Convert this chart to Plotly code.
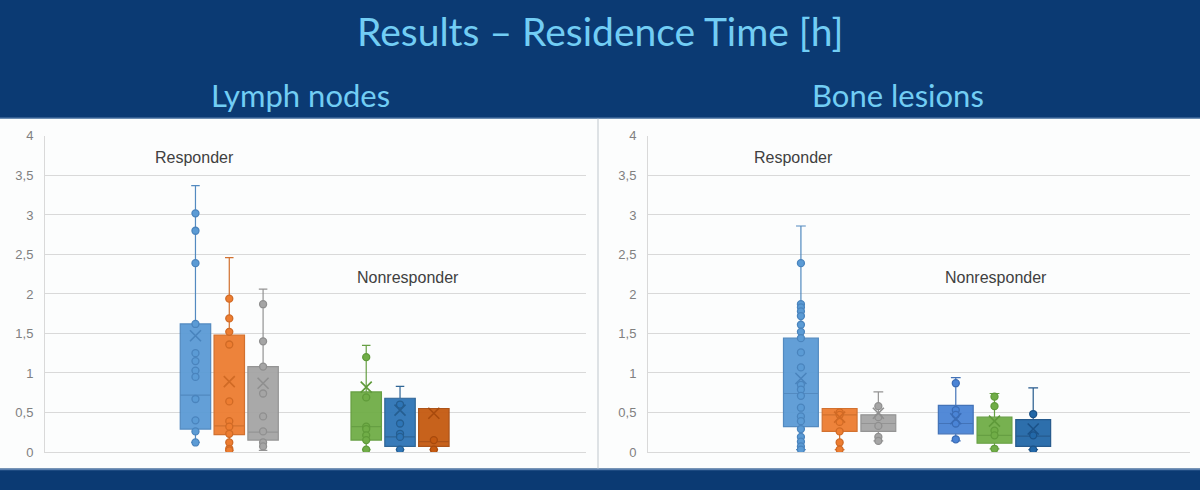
import plotly.graph_objects as go

# ---------------- DATA ----------------
GROUPS = ["Responder", "Responder", "Responder", "Nonresponder", "Nonresponder", "Nonresponder"]

# Lymph nodes
LN_Q1 = [0.29, 0.22, 0.15, 0.15, 0.07, 0.07]
LN_MED = [0.72, 0.33, 0.25, 0.32, 0.19, 0.13]
LN_Q3 = [1.62, 1.48, 1.08, 0.76, 0.68, 0.55]
LN_LO = [0.12, 0.02, 0.02, 0.03, 0.03, 0.03]
LN_HI = [3.37, 2.46, 2.06, 1.35, 0.83, 0.55]
LN_MEAN = [1.47, 0.89, 0.87, 0.82, 0.53, 0.49]
LN_PTS = [
    [3.02, 2.80, 2.39, 1.62, 1.25, 1.15, 1.03, 0.95, 0.67, 0.40, 0.26, 0.12],
    [1.94, 1.69, 1.52, 1.36, 0.64, 0.39, 0.32, 0.23, 0.12, 0.04, 0.02],
    [1.87, 1.40, 1.08, 0.74, 0.45, 0.26, 0.12, 0.07],
    [1.20, 0.69, 0.32, 0.29, 0.21, 0.15, 0.03],
    [0.60, 0.36, 0.23, 0.19, 0.03],
    [0.15, 0.03],
]

# Bone lesions
BL_Q1 = [0.32, 0.26, 0.26, 0.23, 0.11, 0.07]
BL_MED = [0.74, 0.47, 0.36, 0.36, 0.21, 0.20]
BL_Q3 = [1.44, 0.55, 0.47, 0.59, 0.44, 0.41]
BL_LO = [0.03, 0.03, 0.14, 0.14, 0.04, 0.03]
BL_HI = [2.86, 0.55, 0.76, 0.94, 0.74, 0.81]
BL_MEAN = [0.93, 0.44, 0.49, 0.42, 0.39, 0.29]
BL_PTS = [
    [2.39, 1.87, 1.83, 1.78, 1.72, 1.61, 1.52, 1.44, 1.26, 1.07, 0.85, 0.79, 0.71,
     0.56, 0.45, 0.39, 0.29, 0.19, 0.13, 0.07, 0.03],
    [0.50, 0.47, 0.38, 0.26, 0.12, 0.03],
    [0.58, 0.44, 0.33, 0.19, 0.14],
    [0.87, 0.53, 0.47, 0.36, 0.16],
    [0.70, 0.58, 0.27, 0.21, 0.04],
    [0.48, 0.21, 0.03],
]

Y_TICKS = [0, 0.5, 1, 1.5, 2, 2.5, 3, 3.5, 4]

# ---------------- STYLE ----------------
LN_FILL = ["#5b9bd5", "#ed7d31", "#a5a5a5", "#70ad47", "#2e75b6", "#c55a11"]
LN_LINE = ["#4a84bd", "#d06a25", "#8f8f8f", "#5f9a3a", "#255e91", "#a84a0d"]
BL_FILL = ["#5b9bd5", "#ed7d31", "#a5a5a5", "#4a84d6", "#70ad47", "#2268a8"]
BL_LINE = ["#4a84bd", "#d06a25", "#8f8f8f", "#3a6cb5", "#5f9a3a", "#1b5288"]

LN_X = [4.45, 5.45, 6.45, 9.5, 10.5, 11.5]
BL_X = [3.95, 4.95, 5.95, 7.95, 8.95, 9.95]

BG = "#0b3a73"
TITLE_C = "#72cdf4"

fig = go.Figure()


def add_chart(xs, q1, med, q3, lo, hi, mean, pts, fills, lines, xa, ya):
    for i in range(len(xs)):
        fig.add_trace(go.Box(
            x=[xs[i]], q1=[q1[i]], median=[med[i]], q3=[q3[i]],
            lowerfence=[lo[i]], upperfence=[hi[i]],
            width=0.9, whiskerwidth=0.28,
            fillcolor=fills[i], line=dict(color=lines[i], width=1.2),
            opacity=0.95, boxpoints=False, showlegend=False,
            xaxis=xa, yaxis=ya, hoverinfo="y", name=GROUPS[i]))
    for i in range(len(xs)):
        fig.add_trace(go.Scatter(
            x=[xs[i]] * len(pts[i]), y=pts[i], mode="markers",
            marker=dict(symbol="circle", size=7, color=fills[i],
                        line=dict(color=lines[i], width=1.3)),
            showlegend=False, xaxis=xa, yaxis=ya, name=GROUPS[i]))
        fig.add_trace(go.Scatter(
            x=[xs[i]], y=[mean[i]], mode="markers",
            marker=dict(symbol="x-thin-open", size=11, color=lines[i],
                        line=dict(color=lines[i], width=1.6)),
            showlegend=False, xaxis=xa, yaxis=ya, name=GROUPS[i]))


add_chart(LN_X, LN_Q1, LN_MED, LN_Q3, LN_LO, LN_HI, LN_MEAN, LN_PTS, LN_FILL, LN_LINE, "x", "y")
add_chart(BL_X, BL_Q1, BL_MED, BL_Q3, BL_LO, BL_HI, BL_MEAN, BL_PTS, BL_FILL, BL_LINE, "x2", "y2")

H = 490.0
W = 1200.0
y_dom = [(H - 459) / H, (H - 133) / H]

yaxis_common = dict(
    range=[0, 4], tickvals=Y_TICKS, showgrid=True, gridcolor="#d9d9d9", gridwidth=1,
    zeroline=False, showline=True, linecolor="#d9d9d9", linewidth=1,
    ticks="", tickfont=dict(family="Liberation Sans, Arial", size=13, color="#808080"),
    ticklabelstandoff=8, fixedrange=True)
xaxis_common = dict(showgrid=False, zeroline=False, showticklabels=False, ticks="",
                    showline=True, linecolor="#d9d9d9", linewidth=1, fixedrange=True)

fig.update_layout(
    width=1200, height=490,
    margin=dict(l=0, r=0, t=0, b=0),
    paper_bgcolor=BG, plot_bgcolor="rgba(0,0,0,0)",
    separators=", ",
    showlegend=False,
    xaxis=dict(domain=[45 / W, 586 / W], range=[0, 16], **xaxis_common),
    yaxis=dict(domain=y_dom, anchor="x", **yaxis_common),
    xaxis2=dict(domain=[648 / W, 1190 / W], range=[0, 14], anchor="y2", **xaxis_common),
    yaxis2=dict(domain=y_dom, anchor="x2", **yaxis_common),
    shapes=[
        dict(type="rect", xref="paper", yref="paper", x0=0, x1=1,
             y0=(H - 476) / H, y1=(H - 115) / H, fillcolor="#fcfdfd",
             line=dict(width=0), layer="below"),
        dict(type="line", xref="paper", yref="paper", x0=598 / W, x1=598 / W,
             y0=(H - 476) / H, y1=(H - 115) / H, line=dict(color="#d4d8dc", width=1.5),
             layer="below"),
        dict(type="line", xref="paper", yref="paper", x0=0, x1=1,
             y0=(H - 477) / H, y1=(H - 477) / H, line=dict(color="#5a7fae", width=1.5)),
        dict(type="line", xref="paper", yref="paper", x0=0, x1=1,
             y0=(H - 114.5) / H, y1=(H - 114.5) / H, line=dict(color="#5a7fae", width=1)),
    ],
    annotations=[
        dict(text="Results – Residence Time [h]", x=0.5, y=(H - 25) / H, xref="paper",
             yref="paper", showarrow=False, xanchor="center", yanchor="middle",
             font=dict(family="Lato, Open Sans", size=39, color=TITLE_C)),
        dict(text="Lymph nodes", x=300 / W, y=(H - 91) / H, xref="paper",
             yref="paper", showarrow=False, xanchor="center", yanchor="middle",
             font=dict(family="Lato, Open Sans", size=31, color=TITLE_C)),
        dict(text="Bone lesions", x=898 / W, y=(H - 91) / H, xref="paper",
             yref="paper", showarrow=False, xanchor="center", yanchor="middle",
             font=dict(family="Lato, Open Sans", size=31, color=TITLE_C)),
        dict(text="Responder", x=153 / W, y=(H - 155) / H, xref="paper", yref="paper",
             showarrow=False, xanchor="left", yanchor="middle",
             font=dict(family="Liberation Sans, Arial", size=16, color="#404040")),
        dict(text="Nonresponder", x=355 / W, y=(H - 279) / H, xref="paper", yref="paper",
             showarrow=False, xanchor="left", yanchor="middle",
             font=dict(family="Liberation Sans, Arial", size=16, color="#404040")),
        dict(text="Responder", x=752 / W, y=(H - 155) / H, xref="paper", yref="paper",
             showarrow=False, xanchor="left", yanchor="middle",
             font=dict(family="Liberation Sans, Arial", size=16, color="#404040")),
        dict(text="Nonresponder", x=943 / W, y=(H - 279) / H, xref="paper", yref="paper",
             showarrow=False, xanchor="left", yanchor="middle",
             font=dict(family="Liberation Sans, Arial", size=16, color="#404040")),
    ],
)

fig.write_html("out.html")
